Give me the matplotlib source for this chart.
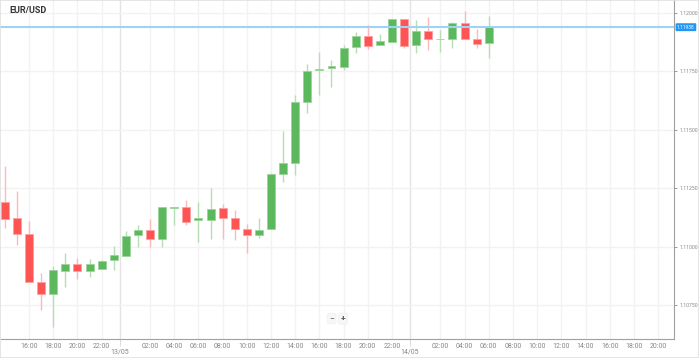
import matplotlib
matplotlib.use("Agg")
import matplotlib.pyplot as plt
import matplotlib.dates as mdates
import numpy as np
import pandas as pd

plt.rcParams["font.family"] = ["Roboto", "DejaVu Sans"]

# hourly candles, first one at 12/05 14:00
times = pd.date_range("2019-05-12 14:00", periods=41, freq="h")
opens = [1.11190, 1.11121, 1.11054, 1.10850, 1.10797, 1.10897, 1.10925, 1.10895,
         1.10905, 1.10942, 1.10960, 1.11049, 1.11070, 1.11032, 1.11164, 1.11171,
         1.11114, 1.11114, 1.11164, 1.11121, 1.11074, 1.11049, 1.11074, 1.11311,
         1.11356, 1.11617, 1.11756, 1.11762, 1.11769, 1.11855, 1.11902, 1.11862,
         1.11875, 1.11973, 1.11862, 1.11922, 1.11886, 1.11889, 1.11955, 1.11889,
         1.11869]
closes = [1.11118, 1.11054, 1.10848, 1.10797, 1.10900, 1.10926, 1.10897, 1.10927,
          1.10939, 1.10963, 1.11047, 1.11070, 1.11032, 1.11167, 1.11171, 1.11107,
          1.11121, 1.11160, 1.11121, 1.11074, 1.11050, 1.11071, 1.11309, 1.11356,
          1.11617, 1.11752, 1.11759, 1.11771, 1.11851, 1.11900, 1.11859, 1.11879,
          1.11975, 1.11859, 1.11923, 1.11888, 1.11889, 1.11957, 1.11889, 1.11866,
          1.11938]
highs = [1.11346, 1.11239, 1.11111, 1.10886, 1.10917, 1.10972, 1.10953, 1.10946,
         1.10943, 1.11003, 1.11067, 1.11094, 1.11117, 1.11171, 1.11171, 1.11200,
         1.11192, 1.11250, 1.11182, 1.11157, 1.11097, 1.11124, 1.11316, 1.11492,
         1.11648, 1.11781, 1.11831, 1.11798, 1.11862, 1.11919, 1.11947, 1.11911,
         1.11975, 1.11973, 1.11969, 1.11980, 1.11926, 1.11962, 1.12009, 1.11929,
         1.11985]
lows = [1.11079, 1.11007, 1.10848, 1.10729, 1.10658, 1.10829, 1.10861, 1.10868,
        1.10905, 1.10900, 1.10960, 1.11000, 1.10996, 1.10996, 1.11093, 1.11093,
        1.11019, 1.11033, 1.11033, 1.11026, 1.10974, 1.11038, 1.11074, 1.11278,
        1.11305, 1.11573, 1.11648, 1.11681, 1.11755, 1.11829, 1.11844, 1.11862,
        1.11875, 1.11851, 1.11826, 1.11841, 1.11833, 1.11848, 1.11889, 1.11851,
        1.11805]
last_price = 1.11938
y_ticks = [1.10750, 1.11000, 1.11250, 1.11500, 1.11750, 1.12000]
date_labels = ["13/05", "14/05"]

GREEN = "#5cb85c"
RED = "#ff5454"
GREEN_WICK = "#b5deb5"
RED_WICK = "#ffb8b8"

fig = plt.figure(figsize=(6.99, 3.58), dpi=100)
ax = fig.add_axes([0.0, 19 / 358, 674 / 699, 339 / 358])

x = mdates.date2num(times)
hour = 1 / 24
up = np.array(closes) >= np.array(opens)

for xi, o, c, h, l, u in zip(x, opens, closes, highs, lows, up):
    ax.vlines(xi, l, h, color=GREEN_WICK if u else RED_WICK, lw=1.0, zorder=2)
    lo, hi = min(o, c), max(o, c)
    ax.bar(xi, max(hi - lo, 0.000012), bottom=lo, width=0.66 * hour,
           color=GREEN if u else RED, edgecolor="#9bd49b" if u else "#ffa0a0",
           linewidth=0.6, zorder=3)

# axis limits (hours around first candle)
x0 = x[0] - 0.4 * hour
ax.set_xlim(x0, x0 + 55.71 * hour)
ax.set_ylim(1.106046, 1.120543)

# time ticks every 2 h, midnight replaced by date label
tick_times = pd.date_range("2019-05-12 16:00", "2019-05-14 20:00", freq="2h")
tick_times = [t for t in tick_times if t.hour != 0]
ax.set_xticks(mdates.date2num(tick_times))
ax.set_xticklabels([t.strftime("%H:%M") for t in tick_times])
ax.tick_params(axis="x", length=0, labelsize=5, colors="#888888", pad=3)

date_pos = mdates.date2num(pd.to_datetime(["2019-05-12 23:30", "2019-05-13 23:30"]))
for dp, lab in zip(date_pos, date_labels):
    ax.axvline(dp, color="#e4e4e4", lw=1, zorder=0)
    ax.text(dp, -0.037, lab, transform=ax.get_xaxis_transform(), ha="center",
            va="center", fontsize=5, color="#888888", clip_on=False)
    ax.plot([dp, dp], [0, -0.02], transform=ax.get_xaxis_transform(),
            color="#aaaaaa", lw=0.6, ls=(0, (1, 1)), clip_on=False)

ax.yaxis.tick_right()
ax.set_yticks(y_ticks)
ax.set_yticklabels([f"{v:.5f}" for v in y_ticks])
ax.tick_params(axis="y", length=2.5, width=0.6, labelsize=3.7,
               colors="#888888", pad=1.2)

ax.grid(True, color="#f2f2f2", lw=1, zorder=0)
ax.set_axisbelow(True)
for side in ["top", "left"]:
    ax.spines[side].set_visible(False)
for side in ["right", "bottom"]:
    ax.spines[side].set_color("#a0a0a0")
    ax.spines[side].set_linewidth(0.8)

# current price line and label
ax.axhline(last_price, color="#9fd3f5", lw=1.5, zorder=4)
ax.annotate(f"{last_price:.5f}", xy=(1.0, last_price),
            xycoords=("axes fraction", "data"), xytext=(2.2, 0),
            textcoords="offset points", ha="left", va="center",
            fontsize=3.5, color="white",
            bbox=dict(boxstyle="round,pad=0.3,rounding_size=0.2",
                      fc="#2196f3", ec="none"), zorder=6, annotation_clip=False)

ax.text(0.014, 0.97, "EUR/USD", transform=ax.transAxes, fontsize=6.5,
        fontweight="bold", color="#333333", va="center", ha="left")

# zoom buttons
ax.text(0.492, 0.06, "\u2212", transform=ax.transAxes, fontsize=6,
        color="#555555", ha="center", va="center",
        bbox=dict(boxstyle="round,pad=0.25", fc="#f7f7f7", ec="#eeeeee", lw=0.5))
ax.text(0.509, 0.06, "+", transform=ax.transAxes, fontsize=6, fontweight="bold",
        color="#555555", ha="center", va="center",
        bbox=dict(boxstyle="round,pad=0.25", fc="#f7f7f7", ec="#eeeeee", lw=0.5))

fig.patches.append(plt.Rectangle((0, 0), 1, 1, transform=fig.transFigure,
                                 fill=False, ec="#e0e0e0", lw=1.2))

fig.savefig("out.png", dpi=100)
